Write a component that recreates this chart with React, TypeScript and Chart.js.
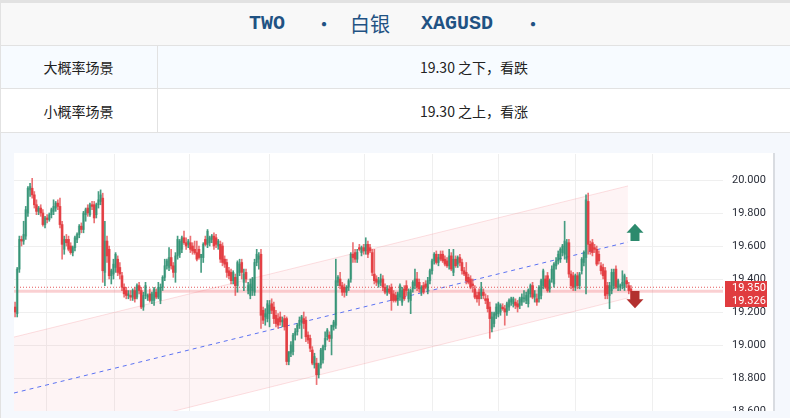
import React, { useEffect, useRef } from "react";
import { Chart, registerables } from "chart.js";

Chart.register(...registerables);

// ---------- text ----------
const titleParts = ["TWO", "•", "白银", "XAGUSD", "•"];
const scenarioLabels = ["大概率场景", "小概率场景"];
const scenarioTexts = ["19.30 之下，看跌", "19.30 之上，看涨"];

// ---------- axes ----------
const yTicks = [18.6, 18.8, 19.0, 19.2, 19.4, 19.6, 19.8, 20.0];
const yMin = 18.6;
const yMax = 20.1576;
const xMin = -0.5;
const xMax = 331.06;
// vertical (time) grid lines, in bar-index units
const timeGrid = [14.9, 46.3, 81.8, 118.8, 163.2, 195.0, 226.3, 262.3, 298.3];

// ---------- channel & levels ----------
const channelX = [-0.5, 286.6];
const channelUpper = [19.048, 19.964];
const channelMid = [18.709, 19.624];
const channelLower = [18.358, 19.285];
const refPrice = 19.35;
const lastPrice = 19.326;
const arrowX = 289.9;
const arrowUp = [19.63, 19.735]; // base, tip
const arrowDown = [19.327, 19.222]; // base, tip

// ---------- candles: [open, high, low, close] ----------
const ohlc: number[][] = [
  [19.23,19.26,19.17,19.20],[19.19,19.47,19.17,19.46],[19.46,19.66,19.44,19.64],[19.64,19.66,19.60,19.63],
  [19.63,19.75,19.61,19.67],[19.66,19.84,19.64,19.82],[19.80,19.96,19.78,19.95],[19.94,19.98,19.90,19.96],
  [19.95,20.01,19.89,19.91],[19.91,19.93,19.83,19.85],[19.85,19.88,19.79,19.81],[19.81,19.84,19.79,19.83],
  [19.83,19.85,19.78,19.80],[19.80,19.82,19.72,19.73],[19.73,19.78,19.71,19.77],[19.77,19.79,19.74,19.76],
  [19.76,19.80,19.75,19.79],[19.79,19.83,19.77,19.82],[19.81,19.88,19.79,19.84],[19.83,19.87,19.81,19.86],
  [19.86,19.88,19.82,19.84],[19.84,19.89,19.71,19.73],[19.73,19.75,19.52,19.61],[19.58,19.66,19.55,19.64],
  [19.64,19.67,19.60,19.62],[19.64,19.66,19.57,19.58],[19.60,19.62,19.55,19.56],[19.56,19.60,19.54,19.59],
  [19.59,19.66,19.57,19.65],[19.64,19.68,19.62,19.67],[19.67,19.73,19.65,19.72],[19.72,19.74,19.68,19.70],
  [19.70,19.81,19.68,19.80],[19.79,19.83,19.75,19.82],[19.83,19.85,19.78,19.80],[19.79,19.86,19.78,19.85],
  [19.85,19.87,19.82,19.84],[19.85,19.87,19.74,19.77],[19.79,19.86,19.77,19.85],[19.85,19.93,19.83,19.88],
  [19.87,19.94,19.85,19.91],[19.89,19.92,19.38,19.45],
  [19.44,19.75,19.36,19.63],[19.63,19.66,19.50,19.54],[19.58,19.60,19.40,19.42],[19.42,19.46,19.37,19.45],
  [19.43,19.52,19.40,19.49],[19.47,19.56,19.44,19.55],[19.52,19.54,19.42,19.44],[19.47,19.50,19.40,19.43],
  [19.42,19.44,19.33,19.35],[19.35,19.37,19.29,19.31],[19.33,19.35,19.28,19.30],[19.30,19.33,19.28,19.31],
  [19.30,19.33,19.27,19.29],[19.29,19.34,19.27,19.33],[19.33,19.35,19.26,19.28],[19.29,19.37,19.28,19.36],
  [19.36,19.38,19.31,19.33],[19.33,19.35,19.22,19.23],[19.23,19.32,19.21,19.30],[19.30,19.38,19.28,19.36],
  [19.29,19.31,19.27,19.30],[19.31,19.34,19.26,19.27],[19.27,19.32,19.25,19.31],[19.27,19.35,19.24,19.34],
  [19.32,19.34,19.28,19.29],[19.29,19.38,19.28,19.35],[19.27,19.37,19.25,19.35],[19.35,19.42,19.33,19.41],
  [19.41,19.52,19.39,19.48],[19.48,19.52,19.46,19.51],[19.47,19.59,19.45,19.53],[19.53,19.58,19.46,19.48],
  [19.48,19.50,19.41,19.44],[19.44,19.56,19.38,19.54],[19.54,19.66,19.52,19.64],[19.55,19.64,19.53,19.63],
  [19.58,19.66,19.56,19.65],[19.65,19.69,19.61,19.62],[19.62,19.65,19.58,19.60],[19.61,19.64,19.59,19.63],
  [19.62,19.66,19.56,19.58],[19.60,19.62,19.55,19.57],
  [19.58,19.63,19.55,19.56],[19.56,19.63,19.51,19.52],[19.58,19.60,19.52,19.53],[19.53,19.55,19.44,19.55],
  [19.53,19.62,19.50,19.61],[19.64,19.66,19.60,19.61],[19.61,19.70,19.59,19.69],[19.62,19.66,19.60,19.65],
  [19.64,19.67,19.62,19.66],[19.66,19.68,19.58,19.60],[19.65,19.67,19.59,19.61],[19.60,19.64,19.58,19.63],
  [19.61,19.63,19.50,19.52],[19.60,19.62,19.48,19.50],[19.52,19.54,19.47,19.49],[19.50,19.52,19.41,19.44],
  [19.45,19.47,19.40,19.42],[19.44,19.46,19.37,19.39],[19.39,19.45,19.37,19.44],[19.41,19.43,19.30,19.36],
  [19.36,19.51,19.32,19.50],[19.44,19.52,19.42,19.49],[19.50,19.52,19.40,19.44],[19.38,19.46,19.33,19.43],
  [19.44,19.46,19.38,19.40],[19.33,19.38,19.31,19.36],[19.30,19.40,19.28,19.37],[19.33,19.41,19.30,19.40],
  [19.32,19.52,19.30,19.50],[19.50,19.58,19.48,19.55],[19.52,19.56,19.46,19.54],[19.55,19.58,19.10,19.18],
  [19.21,19.23,19.13,19.15],[19.17,19.22,19.12,19.19],[19.16,19.27,19.14,19.25],[19.19,19.27,19.11,19.24],
  [19.25,19.28,19.19,19.21],[19.23,19.26,19.13,19.16],[19.18,19.21,19.11,19.13],[19.16,19.19,19.10,19.12],
  [19.17,19.20,19.12,19.14],[19.14,19.17,19.11,19.15],
  [19.16,19.18,19.09,19.11],[19.16,19.17,18.88,18.90],[18.90,18.96,18.88,18.96],[18.95,19.02,18.93,19.00],
  [18.96,19.07,18.94,19.06],[19.06,19.10,19.03,19.08],[19.08,19.13,19.06,19.12],[19.12,19.17,19.10,19.15],
  [19.14,19.18,19.04,19.17],[19.16,19.20,19.10,19.13],[19.15,19.17,19.02,19.05],[19.06,19.08,19.01,19.03],
  [19.04,19.06,18.96,18.98],[18.97,18.99,18.88,18.89],[18.88,18.95,18.86,18.93],[18.89,18.92,18.76,18.82],
  [18.82,18.89,18.80,18.88],[18.88,18.98,18.86,18.97],[18.91,19.00,18.89,18.99],[18.99,19.08,18.97,19.04],
  [19.05,19.10,19.03,19.09],[19.06,19.08,19.02,19.04],[19.04,19.12,18.94,19.12],[19.11,19.15,19.09,19.14],
  [19.12,19.52,19.10,19.39],[19.38,19.42,19.36,19.41],[19.40,19.44,19.34,19.36],[19.36,19.38,19.30,19.32],
  [19.35,19.37,19.29,19.32],[19.32,19.36,19.30,19.35],[19.35,19.40,19.33,19.39],[19.40,19.56,19.38,19.55],
  [19.55,19.62,19.50,19.53],[19.56,19.58,19.50,19.52],[19.52,19.58,19.50,19.56],[19.59,19.61,19.57,19.58],
  [19.56,19.60,19.54,19.59],[19.59,19.61,19.55,19.57],[19.57,19.65,19.55,19.61],[19.61,19.63,19.53,19.55],
  [19.59,19.61,19.56,19.57],[19.56,19.58,19.42,19.44],
  [19.43,19.58,19.37,19.39],[19.40,19.42,19.36,19.38],[19.37,19.41,19.35,19.39],[19.38,19.43,19.36,19.40],
  [19.40,19.42,19.33,19.35],[19.35,19.37,19.31,19.32],[19.32,19.36,19.30,19.34],[19.34,19.36,19.31,19.32],
  [19.35,19.37,19.21,19.27],[19.31,19.33,19.26,19.27],[19.30,19.32,19.26,19.27],[19.27,19.32,19.24,19.31],
  [19.29,19.37,19.27,19.36],[19.26,19.35,19.24,19.33],[19.34,19.36,19.27,19.28],[19.36,19.39,19.30,19.33],
  [19.28,19.34,19.26,19.32],[19.27,19.34,19.19,19.33],[19.34,19.39,19.32,19.38],[19.36,19.46,19.34,19.40],
  [19.40,19.44,19.33,19.35],[19.38,19.40,19.32,19.34],[19.32,19.36,19.30,19.35],[19.36,19.38,19.31,19.32],
  [19.37,19.39,19.34,19.35],[19.33,19.41,19.31,19.39],[19.39,19.46,19.37,19.45],[19.45,19.52,19.43,19.51],
  [19.51,19.56,19.49,19.55],[19.55,19.57,19.49,19.50],[19.50,19.55,19.48,19.53],[19.55,19.57,19.51,19.52],
  [19.55,19.57,19.50,19.51],[19.52,19.54,19.48,19.49],[19.51,19.53,19.47,19.48],[19.48,19.58,19.46,19.54],
  [19.54,19.56,19.45,19.46],[19.44,19.58,19.42,19.52],[19.52,19.54,19.47,19.48],[19.49,19.54,19.47,19.53],
  [19.53,19.55,19.48,19.50],[19.50,19.52,19.43,19.45],
  [19.45,19.47,19.42,19.43],[19.44,19.50,19.37,19.39],[19.41,19.43,19.37,19.38],[19.40,19.42,19.34,19.35],
  [19.37,19.40,19.32,19.36],[19.34,19.36,19.28,19.29],[19.30,19.32,19.26,19.28],[19.32,19.34,19.24,19.28],
  [19.30,19.38,19.28,19.34],[19.32,19.34,19.28,19.30],[19.28,19.31,19.25,19.27],[19.28,19.30,19.20,19.22],
  [19.23,19.26,19.04,19.16],[19.10,19.20,19.08,19.17],[19.13,19.20,19.11,19.19],[19.18,19.25,19.16,19.23],
  [19.19,19.26,19.17,19.25],[19.20,19.25,19.18,19.24],[19.23,19.25,19.21,19.22],[19.22,19.24,19.12,19.20],
  [19.20,19.26,19.18,19.25],[19.23,19.28,19.21,19.27],[19.26,19.29,19.24,19.28],[19.25,19.29,19.23,19.28],
  [19.26,19.28,19.22,19.24],[19.25,19.27,19.20,19.23],[19.24,19.29,19.22,19.28],[19.26,19.31,19.24,19.29],
  [19.28,19.33,19.26,19.28],[19.27,19.32,19.25,19.30],[19.25,19.34,19.23,19.33],[19.31,19.37,19.29,19.36],
  [19.36,19.38,19.28,19.29],[19.29,19.33,19.26,19.31],[19.28,19.31,19.24,19.26],[19.28,19.36,19.26,19.35],
  [19.30,19.40,19.28,19.39],[19.36,19.46,19.34,19.45],[19.40,19.42,19.34,19.35],[19.42,19.44,19.32,19.33],
  [19.34,19.40,19.32,19.39],[19.40,19.48,19.38,19.46],
  [19.37,19.50,19.35,19.49],[19.48,19.53,19.46,19.51],[19.51,19.57,19.49,19.55],[19.52,19.59,19.50,19.58],
  [19.56,19.61,19.54,19.60],[19.55,19.75,19.52,19.63],[19.52,19.64,19.50,19.62],[19.62,19.64,19.41,19.43],
  [19.43,19.45,19.34,19.36],[19.42,19.44,19.33,19.35],[19.35,19.43,19.33,19.42],[19.42,19.44,19.34,19.36],
  [19.36,19.44,19.34,19.43],[19.45,19.53,19.43,19.52],[19.50,19.57,19.48,19.56],[19.53,19.91,19.31,19.88],
  [19.87,19.92,19.55,19.61],[19.61,19.63,19.55,19.57],[19.62,19.64,19.54,19.56],[19.59,19.61,19.56,19.58],
  [19.58,19.60,19.48,19.49],[19.55,19.57,19.49,19.51],[19.48,19.50,19.43,19.45],[19.47,19.49,19.40,19.42],
  [19.45,19.47,19.28,19.30],[19.36,19.38,19.28,19.31],[19.30,19.38,19.22,19.36],[19.33,19.46,19.31,19.44],
  [19.36,19.46,19.34,19.44],[19.46,19.48,19.34,19.35],[19.35,19.40,19.33,19.39],[19.35,19.37,19.33,19.36],
  [19.36,19.45,19.34,19.38],[19.35,19.43,19.33,19.42],[19.39,19.41,19.35,19.37],[19.36,19.38,19.31,19.33],
  [19.34,19.36,19.28,19.326],
];

const UP_BODY = "rgba(38,140,108,0.5)";
const UP_WICK = "rgba(38,140,108,0.85)";
const DN_BODY = "rgba(226,56,60,0.88)";
const DN_WICK = "rgba(226,56,60,0.7)";

function drawArrow(ctx: CanvasRenderingContext2D, cx: number, yBase: number, yTip: number, color: string) {
  const dir = yTip < yBase ? -1 : 1;
  const yHead = yTip - dir * 9;
  ctx.save();
  ctx.fillStyle = color;
  ctx.beginPath();
  ctx.moveTo(cx, yTip);
  ctx.lineTo(cx + 8.5, yHead);
  ctx.lineTo(cx + 4.5, yHead);
  ctx.lineTo(cx + 4.5, yBase);
  ctx.lineTo(cx - 4.5, yBase);
  ctx.lineTo(cx - 4.5, yHead);
  ctx.lineTo(cx - 8.5, yHead);
  ctx.closePath();
  ctx.fill();
  ctx.restore();
}

const overlayPlugin = {
  id: "overlay",
  afterDatasetsDraw(chart: any) {
    const { ctx, scales } = chart;
    const x = scales.x;
    const y = scales.y;
    const ax = x.getPixelForValue(arrowX);
    drawArrow(ctx, ax, y.getPixelForValue(arrowUp[0]), y.getPixelForValue(arrowUp[1]), "#2c8a6d");
    drawArrow(ctx, ax, y.getPixelForValue(arrowDown[0]), y.getPixelForValue(arrowDown[1]), "#b3302f");
  },
  afterDraw(chart: any) {
    const { ctx, chartArea, scales } = chart;
    const y = scales.y;
    const yRef = y.getPixelForValue(refPrice);
    const left = chartArea.right + 2;
    ctx.save();
    ctx.fillStyle = "#e03c3f";
    ctx.fillRect(left, Math.round(yRef - 6.5), 42, 26);
    ctx.fillStyle = "#ffffff";
    ctx.font = "11px Roboto, 'Liberation Sans', sans-serif";
    ctx.textBaseline = "middle";
    ctx.textAlign = "left";
    ctx.fillText(refPrice.toFixed(3), chartArea.right + 9, yRef + 0.5);
    ctx.fillText(lastPrice.toFixed(3), chartArea.right + 9, yRef + 13.5);
    ctx.restore();
  },
};

function ChartPanel() {
  const ref = useRef<HTMLCanvasElement>(null);
  useEffect(() => {
    const canvas = ref.current;
    if (!canvas) return;
    const isUp = ohlc.map((c) => c[3] >= c[0]);
    const line = (xs: number[], ys: number[]) => xs.map((v, i) => ({ x: v, y: ys[i] }));
    const chart = new Chart(canvas, {
      type: "bar",
      data: {
        datasets: [
          {
            type: "bar",
            label: "bodies",
            data: ohlc.map((c, i) => ({ x: i, y: [c[0], c[3]] })) as any,
            backgroundColor: isUp.map((u) => (u ? UP_BODY : DN_BODY)),
            borderColor: isUp.map((u) => (u ? UP_WICK : DN_BODY)),
            borderWidth: 0,
            barThickness: 2,
            minBarLength: 1,
            grouped: false,
            order: 0,
          } as any,
          {
            type: "bar",
            label: "wicks",
            data: ohlc.map((c, i) => ({ x: i, y: [c[2], c[1]] })) as any,
            backgroundColor: isUp.map((u) => (u ? UP_WICK : DN_WICK)),
            borderWidth: 0,
            barThickness: 1,
            grouped: false,
            order: 1,
          } as any,
          {
            type: "line",
            label: "ref",
            data: line([xMin, xMax], [refPrice, refPrice]),
            borderColor: "rgba(224,60,63,0.85)",
            borderWidth: 1,
            borderDash: [1, 2],
            pointRadius: 0,
            fill: false,
            order: 2,
          } as any,
          {
            type: "line",
            label: "last",
            data: line([xMin, xMax], [lastPrice, lastPrice]),
            borderColor: "rgba(242,120,125,0.35)",
            borderWidth: 3,
            pointRadius: 0,
            fill: false,
            order: 3,
          } as any,
          {
            type: "line",
            label: "mid",
            data: line(channelX, channelMid),
            borderColor: "#5b72f2",
            borderWidth: 1,
            borderDash: [4, 4],
            pointRadius: 0,
            fill: false,
            order: 4,
          } as any,
          {
            type: "line",
            label: "upper",
            data: line(channelX, channelUpper),
            borderColor: "rgba(242,130,140,0.25)",
            borderWidth: 1,
            pointRadius: 0,
            fill: false,
            order: 5,
          } as any,
          {
            type: "line",
            label: "lower",
            data: line(channelX, channelLower),
            borderColor: "rgba(242,130,140,0.25)",
            borderWidth: 1,
            pointRadius: 0,
            fill: "-1",
            backgroundColor: "rgba(242,100,110,0.07)",
            order: 6,
          } as any,
        ],
      },
      options: {
        animation: false,
        responsive: false,
        events: [],
        layout: { padding: 0 },
        plugins: { legend: { display: false }, tooltip: { enabled: false } },
        scales: {
          x: {
            type: "linear",
            min: xMin,
            max: xMax,
            offset: false,
            afterBuildTicks: (s: any) => {
              s.ticks = timeGrid.map((v) => ({ value: v }));
            },
            ticks: { display: false },
            grid: { color: "#efefef", drawTicks: false, offset: false },
            border: { display: false },
          },
          y: {
            type: "linear",
            position: "right",
            min: yMin,
            max: yMax,
            afterBuildTicks: (s: any) => {
              s.ticks = yTicks.map((v) => ({ value: v }));
            },
            afterFit: (s: any) => {
              s.width = 50;
              s.paddingTop = 0;
              s.paddingBottom = 0;
            },
            ticks: {
              padding: 9,
              color: "#2a2e39",
              font: { family: "Roboto, 'Liberation Sans', sans-serif", size: 11 },
              callback: (v: any) => Number(v).toFixed(3),
            },
            grid: { color: "#efefef", drawTicks: false },
            border: { display: false },
          },
        },
      } as any,
      plugins: [overlayPlugin],
    });
    return () => chart.destroy();
  }, []);
  return <canvas ref={ref} width={759} height={257} style={{ display: "block", width: 759, height: 257 }} />;
}

export default function App() {
  const cjk = '"Noto Sans CJK SC", sans-serif';
  const titleLeft = [249, 314, 350, 421, 523];
  return (
    <div style={{ position: "relative", width: 790, height: 418, overflow: "hidden", background: "#f5f8fd", fontFamily: cjk }}>
      <style>{"body{margin:0}"}</style>
      <div style={{ position: "absolute", left: 0, top: 0, width: 790, height: 3, background: "#e2e2e2" }} />
      <div
        style={{
          position: "absolute", left: 0, top: 3, width: 790, height: 43, boxSizing: "border-box",
          background: "#f8f8f8", borderBottom: "1px solid #e2e2e2",
        }}
      >
        {titleParts.map((t, i) => (
          <span
            key={i}
            style={{
              position: "absolute", left: titleLeft[i], top: 11, lineHeight: "20px", fontSize: 20,
              color: "#1f5283",
              fontWeight: /[A-Z]/.test(t) ? 700 : 400,
              fontFamily: /[A-Z]/.test(t) ? '"Liberation Mono", monospace' : cjk,
            }}
          >
            {t}
          </span>
        ))}
      </div>
      {scenarioLabels.map((lab, i) => (
        <div
          key={lab}
          style={{
            position: "absolute", left: 0, top: i === 0 ? 46 : 89, width: 790, height: i === 0 ? 43 : 44,
            boxSizing: "border-box", background: i === 0 ? "#f7fbff" : "#ffffff",
            borderBottom: "1px solid #e2e2e2", fontSize: 14, color: "#222",
          }}
        >
          <div
            style={{
              position: "absolute", left: 0, top: 0, width: 158, height: "100%", boxSizing: "border-box",
              borderRight: "1px solid #e2e2e2", display: "flex", alignItems: "center", justifyContent: "center",
            }}
          >
            {lab}
          </div>
          <div
            style={{
              position: "absolute", left: 158, top: 0, width: 632, height: "100%",
              display: "flex", alignItems: "center", justifyContent: "center",
            }}
          >
            {scenarioTexts[i]}
          </div>
        </div>
      ))}
      <div style={{ position: "absolute", left: 0, top: 3, width: 1, height: 415, background: "#e2e2e2" }} />
      <div
        style={{
          position: "absolute", left: 14, top: 153, width: 759, height: 258, background: "#ffffff",
          overflow: "hidden", paddingTop: 1, boxSizing: "border-box",
        }}
      >
        <ChartPanel />
      </div>
      <div style={{ position: "absolute", left: 773, top: 153, width: 2, height: 258, background: "#d9dce1" }} />
    </div>
  );
}
